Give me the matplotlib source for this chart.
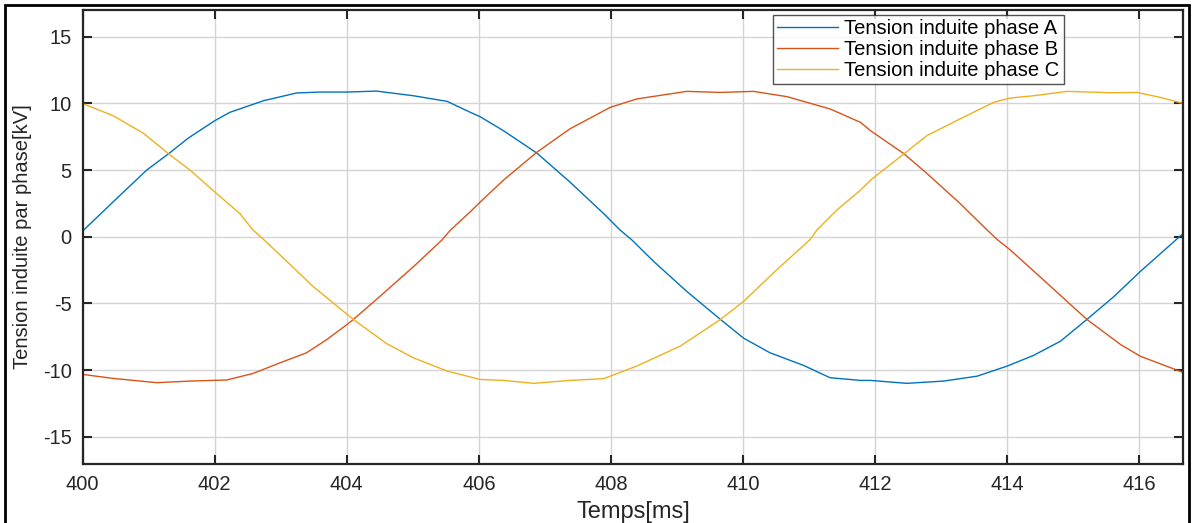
import matplotlib
matplotlib.use("Agg")
import matplotlib.pyplot as plt
from matplotlib.patches import Rectangle

# ---- data ----
t_a = [400.0, 400.5, 400.97, 401.3, 401.6, 402.0, 402.23, 402.74, 403.24, 403.6, 404.0, 404.45,
       405.01, 405.52, 405.87, 406.02, 406.37, 406.88, 407.38, 407.89, 408.14, 408.32, 408.65,
       409.15, 409.66, 410.01, 410.41, 410.92, 411.32, 411.78, 411.93, 412.48, 413.04, 413.55,
       414.0, 414.4, 414.81, 415.21, 415.62, 416.02, 416.68]
v_a = [0.43, 2.8, 5.0, 6.22, 7.4, 8.7, 9.33, 10.2, 10.78, 10.85, 10.85, 10.92,
       10.57, 10.15, 9.33, 9.0, 7.96, 6.27, 4.1, 1.74, 0.5, -0.25, -1.86,
       -4.1, -6.2, -7.6, -8.7, -9.65, -10.57, -10.77, -10.77, -10.99, -10.82, -10.45,
       -9.7, -8.9, -7.83, -6.2, -4.48, -2.6, 0.3]

t_b = [400.0, 400.46, 401.12, 401.63, 402.18, 402.58, 402.99, 403.39, 403.7, 404.0, 404.1,
       404.5, 405.01, 405.44, 405.57, 405.87, 406.02, 406.37, 406.88, 407.38, 407.99, 408.39,
       409.15, 409.66, 410.16, 410.67, 411.32, 411.78, 411.93, 412.44, 412.79, 413.29, 413.7,
       413.85, 414.05, 414.55, 415.21, 415.72, 416.02, 416.68]
v_b = [-10.32, -10.62, -10.94, -10.82, -10.74, -10.25, -9.45, -8.7, -7.7, -6.59, -6.2,
       -4.48, -2.24, -0.25, 0.5, 1.87, 2.6, 4.23, 6.34, 8.09, 9.7, 10.33,
       10.9, 10.82, 10.9, 10.5, 9.58, 8.58, 7.96, 6.22, 4.73, 2.49, 0.5,
       -0.2, -0.99, -3.23, -6.2, -8.08, -8.96, -10.2]

t_c = [400.0, 400.46, 400.92, 401.3, 401.63, 402.0, 402.38, 402.58, 402.74, 402.99, 403.49,
       404.1, 404.6, 405.01, 405.52, 406.02, 406.37, 406.83, 407.38, 407.89, 408.39, 409.05,
       409.66, 410.01, 410.51, 411.02, 411.12, 411.42, 411.78, 411.93, 412.44, 412.79, 413.29,
       413.8, 414.05, 414.4, 414.91, 415.56, 415.97, 416.32, 416.68]
v_c = [9.98, 9.08, 7.76, 6.22, 4.98, 3.36, 1.74, 0.5, -0.2, -1.37, -3.73,
       -6.2, -8.0, -9.08, -10.07, -10.7, -10.77, -10.99, -10.77, -10.64, -9.7, -8.2,
       -6.2, -4.85, -2.49, -0.2, 0.5, 1.99, 3.49, 4.23, 6.22, 7.59, 8.84,
       10.08, 10.4, 10.57, 10.9, 10.8, 10.82, 10.45, 9.98]

labels = ["Tension induite phase A", "Tension induite phase B", "Tension induite phase C"]
xticks = [400, 402, 404, 406, 408, 410, 412, 414, 416]
yticks = [-15, -10, -5, 0, 5, 10, 15]

plt.rcParams['font.family'] = ['Liberation Sans', 'DejaVu Sans']
plt.rcParams['axes.unicode_minus'] = False

W, H = 1192, 523
fig = plt.figure(figsize=(W / 100, H / 100), dpi=100)
ax = fig.add_axes([82.7 / W, 1 - 463.5 / H, (1183.3 - 82.7) / W, (463.5 - 10) / H])

colors = ['#0072BD', '#D95319', '#EDB120']
for t, v, c, lab in zip([t_a, t_b, t_c], [v_a, v_b, v_c], colors, labels):
    ax.plot(t, v, color=c, lw=1.0, label=lab)

ax.set_xlim(400, 416.67)
ax.set_ylim(-17, 17)
ax.set_xticks(xticks)
ax.set_yticks(yticks)
ax.grid(True, color='#d4d4d4', lw=1.0)
ax.set_axisbelow(True)
ax.tick_params(direction='in', length=6.5, width=1.5, colors='#262626', labelsize=14.5,
               top=True, right=True, pad=8)
for s in ax.spines.values():
    s.set_linewidth(1.6)
    s.set_color('#262626')

ax.set_xlabel("Temps[ms]", fontsize=17, color='#262626', labelpad=5)
ax.set_ylabel("Tension induite par phase[kV]", fontsize=14.5, color='#262626', labelpad=8)

leg = ax.legend(loc='upper right', bbox_to_anchor=(1063.5 / W, 1 - 14.5 / H),
                bbox_transform=fig.transFigure, fontsize=14.5, frameon=True, fancybox=False,
                handlelength=3.0, handletextpad=0.3, borderpad=0.22, labelspacing=0.1,
                borderaxespad=0)
leg.get_frame().set_edgecolor('#262626')
leg.get_frame().set_linewidth(1.0)

fig.patches.append(Rectangle((5 / W, -0.05), (1189 - 5) / W, 1.05 - 5 / H,
                             transform=fig.transFigure, fill=False, edgecolor='black',
                             lw=2.0, clip_on=False))

fig.savefig("out.png", dpi=100)
